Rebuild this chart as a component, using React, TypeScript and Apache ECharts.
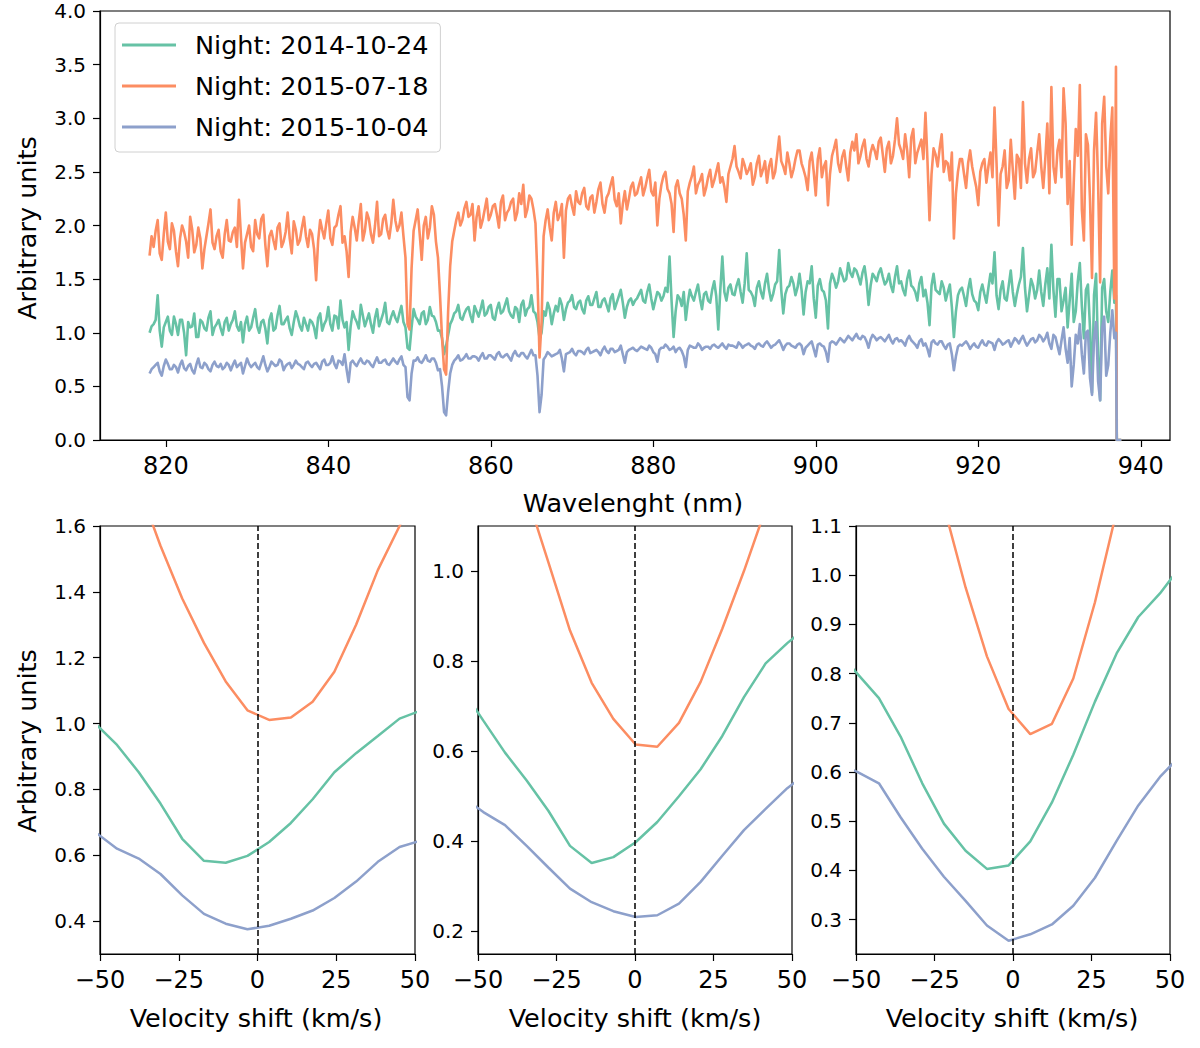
import React, { useEffect, useRef } from "react";
import * as echarts from "echarts";

const GREEN = "#66c2a5";
const ORANGE = "#fc8d62";
const BLUE = "#8da0cb";
const FONT = "DejaVu Sans";

const NIGHTS = ["Night: 2014-10-24", "Night: 2015-07-18", "Night: 2015-10-04"];

// ---- Top panel: spectra read every 0.5 nm (818.0 ... 936.5 nm) plus the samples in between (818.25 ... 936.25 nm) ----
const WL_START = 818;
const WL_STEP = 0.5;

const ORANGE_FLUX = [
  // 818.0 - 827.5
  1.72, 1.80, 2.05, 1.68, 2.12, 1.78, 1.95, 1.62, 2.00, 1.85, 2.08, 1.75, 1.98, 1.60, 1.90, 2.15, 1.78, 1.96, 1.70, 2.05,
  // 828.0 - 837.5
  1.85, 1.98, 2.24, 1.60, 1.92, 1.80, 2.05, 1.88, 2.10, 1.62, 1.95, 1.78, 2.02, 1.85, 2.12, 1.74, 1.96, 1.86, 2.08, 1.80,
  // 838.0 - 847.5
  1.92, 1.49, 2.05, 1.88, 2.14, 1.82, 2.00, 2.18, 1.90, 1.52, 2.08, 1.86, 2.20, 1.95, 2.06, 1.84, 2.22, 1.92, 2.10, 1.88,
  // 848.0 - 857.5
  2.24, 1.95, 2.12, 1.70, 1.03, 1.95, 2.15, 1.68, 2.08, 1.98, 2.10, 1.70, 0.95, 0.61, 1.62, 1.95, 2.12, 2.05, 2.22, 2.10,
  // 858.0 - 867.5
  1.86, 2.18, 2.05, 2.25, 2.10, 2.20, 1.98, 2.28, 2.12, 2.22, 2.05, 2.30, 2.38, 2.15, 2.25, 2.02, 0.77, 1.90, 2.15, 1.86,
  // 868.0 - 877.5
  2.22, 2.10, 1.70, 2.25, 2.18, 2.32, 2.20, 2.35, 2.15, 2.28, 2.22, 2.40, 2.12, 2.30, 2.45, 2.18, 2.02, 2.32, 2.25, 2.40,
  // 878.0 - 887.5
  2.30, 2.45, 2.35, 2.52, 2.28, 2.00, 2.38, 2.50, 2.30, 1.94, 2.42, 2.25, 1.86, 2.40, 2.55, 2.38, 2.48, 2.35, 2.52, 2.42,
  // 888.0 - 897.5
  2.58, 2.45, 2.22, 2.55, 2.74, 2.50, 2.62, 2.48, 2.58, 2.45, 2.65, 2.52, 2.40, 2.62, 2.50, 2.83, 2.55, 2.68, 2.45, 2.62,
  // 898.0 - 907.5
  2.70, 2.52, 2.33, 2.68, 2.28, 2.72, 2.55, 2.19, 2.65, 2.80, 2.50, 2.70, 2.42, 2.78, 2.85, 2.65, 2.80, 2.55, 2.75, 2.62,
  // 908.0 - 917.5
  2.82, 2.50, 2.78, 2.65, 3.00, 2.70, 2.85, 2.45, 2.90, 2.68, 2.80, 3.05, 2.05, 2.72, 2.55, 2.85, 2.60, 2.42, 1.88, 2.50,
  // 918.0 - 927.5
  2.62, 2.35, 2.70, 2.45, 2.19, 2.58, 2.40, 2.68, 3.10, 2.00, 2.55, 2.35, 2.80, 2.25, 2.62, 3.15, 2.40, 2.72, 2.50, 2.85,
  // 928.0 - 936.5
  2.35, 2.95, 3.29, 2.40, 2.80, 3.28, 2.20, 1.82, 2.90, 3.31, 1.86, 2.75, 1.51, 3.05, 1.47, 3.20, 2.30, 3.10,
];
const ORANGE_FLUX_MID = [
  // 818.25 - 827.75
  1.90, 1.95, 1.74, 1.92, 1.85, 2.02, 1.76, 1.88, 1.94, 1.70, 1.96, 1.82, 1.88, 1.78, 2.02, 1.84, 1.90, 1.76, 1.92, 1.86,
  // 828.25 - 837.75
  1.94, 1.80, 1.90, 1.84, 2.00, 1.76, 1.92, 2.06, 1.82, 1.90, 1.86, 1.98, 1.80, 1.94, 1.88, 2.04, 1.82, 1.98, 1.90, 1.96,
  // 838.25 - 847.75
  1.78, 1.86, 1.96, 2.02, 1.88, 1.98, 2.10, 1.84, 1.76, 1.94, 1.98, 2.04, 1.86, 2.12, 1.92, 2.00, 1.90, 2.06, 1.96, 2.02,
  // 848.25 - 857.75
  2.05, 2.00, 1.90, 1.08, 1.60, 2.05, 1.92, 2.00, 1.88, 2.18, 1.85, 1.35, 0.66, 1.20, 1.85, 2.05, 2.00, 2.16, 2.08, 2.20,
  // 858.25 - 867.75
  2.08, 1.98, 2.15, 2.05, 2.18, 2.10, 2.22, 2.05, 2.15, 2.25, 2.12, 2.20, 2.08, 2.28, 2.15, 1.50, 1.10, 2.05, 1.98, 2.12,
  // 868.25 - 877.75
  2.05, 2.20, 2.14, 2.28, 2.10, 2.22, 2.30, 2.18, 2.26, 2.12, 2.34, 2.20, 2.26, 2.38, 2.24, 2.30, 2.20, 2.15, 2.36, 2.28,
  // 878.25 - 887.75
  2.38, 2.28, 2.44, 2.32, 2.40, 2.25, 2.46, 2.34, 2.20, 2.36, 2.30, 2.10, 2.32, 2.46, 2.30, 2.42, 2.28, 2.45, 2.36, 2.50,
  // 888.25 - 897.75
  2.40, 2.36, 2.48, 2.62, 2.55, 2.44, 2.56, 2.52, 2.38, 2.58, 2.46, 2.60, 2.55, 2.44, 2.66, 2.60, 2.48, 2.58, 2.52, 2.70,
  // 898.25 - 907.75
  2.58, 2.45, 2.60, 2.50, 2.62, 2.45, 2.60, 2.48, 2.72, 2.58, 2.64, 2.55, 2.68, 2.70, 2.58, 2.74, 2.62, 2.68, 2.70, 2.78,
  // 908.25 - 917.75
  2.66, 2.72, 2.58, 2.80, 2.76, 2.62, 2.70, 2.82, 2.58, 2.74, 2.62, 2.60, 2.48, 2.66, 2.72, 2.50, 2.58, 2.68, 2.30, 2.62,
  // 918.25 - 927.75
  2.48, 2.58, 2.55, 2.36, 2.50, 2.62, 2.55, 2.45, 2.58, 2.48, 2.70, 2.42, 2.52, 2.66, 2.35, 2.58, 2.62, 2.45, 2.68, 2.55,
  // 928.25 - 936.25
  2.62, 2.30, 2.55, 2.70, 2.45, 2.95, 2.60, 2.40, 2.65, 2.15, 2.85, 2.25, 2.70, 2.40, 2.95, 2.55, 2.80,
];

const GREEN_FLUX = [
  // 818.0 - 827.5
  1.00, 1.08, 1.35, 0.87, 1.10, 1.02, 1.15, 0.98, 1.12, 0.79, 1.05, 1.18, 0.96, 1.10, 1.02, 1.20, 1.05, 1.12, 0.98, 1.14,
  // 828.0 - 837.5
  1.08, 1.20, 1.02, 0.91, 1.15, 1.05, 1.22, 1.00, 1.12, 0.90, 1.18, 1.04, 1.25, 1.08, 1.15, 0.98, 1.20, 1.06, 1.14, 1.02,
  // 838.0 - 847.5
  1.10, 0.95, 1.18, 1.08, 1.24, 1.02, 1.15, 1.30, 1.05, 0.84, 1.20, 1.10, 1.26, 1.06, 1.18, 1.00, 1.22, 1.12, 1.28, 1.08,
  // 848.0 - 857.5
  1.20, 1.10, 1.25, 1.05, 0.84, 1.22, 1.12, 1.18, 1.08, 1.24, 1.15, 1.02, 0.95, 0.88, 1.08, 1.18, 1.26, 1.12, 1.22, 1.16,
  // 858.0 - 867.5
  1.25, 1.15, 1.30, 1.18, 1.26, 1.12, 1.28, 1.20, 1.32, 1.16, 1.24, 1.10, 1.30, 1.22, 1.35, 1.18, 0.95, 1.20, 1.28, 1.08,
  // 868.0 - 877.5
  1.25, 1.32, 1.12, 1.28, 1.35, 1.22, 1.30, 1.18, 1.34, 1.26, 1.38, 1.24, 1.32, 1.20, 1.36, 1.28, 1.40, 1.14, 1.30, 1.26,
  // 878.0 - 887.5
  1.32, 1.40, 1.28, 1.45, 1.22, 1.38, 1.30, 1.42, 1.71, 0.96, 1.35, 1.25, 1.12, 1.40, 1.30, 1.45, 1.22, 1.38, 1.28, 1.48,
  // 888.0 - 897.5
  1.03, 1.71, 1.30, 1.45, 1.35, 1.50, 1.28, 1.74, 1.38, 1.25, 1.48, 1.32, 1.55, 1.30, 1.45, 1.77, 1.18, 1.42, 1.52, 1.35,
  // 898.0 - 907.5
  1.55, 1.17, 1.48, 1.62, 1.14, 1.50, 1.38, 1.04, 1.55, 1.42, 1.60, 1.48, 1.65, 1.52, 1.58, 1.45, 1.62, 1.26, 1.55, 1.48,
  // 908.0 - 917.5
  1.60, 1.45, 1.55, 1.38, 1.62, 1.48, 1.35, 1.58, 1.42, 1.30, 1.52, 1.40, 1.07, 1.55, 1.38, 1.48, 1.30, 1.45, 0.96, 1.35,
  // 918.0 - 927.5
  1.42, 1.25, 1.50, 1.30, 1.21, 1.45, 1.28, 1.55, 1.75, 1.22, 1.48, 1.30, 1.58, 1.25, 1.45, 1.79, 1.20, 1.50, 1.32, 1.58,
  // 928.0 - 936.5
  1.25, 1.60, 1.82, 1.15, 1.50, 1.30, 1.05, 1.55, 1.20, 1.65, 0.95, 1.45, 0.44, 1.55, 0.37, 1.50, 1.10, 1.58,
];
const GREEN_FLUX_MID = [
  // 818.25 - 827.75
  1.06, 1.12, 1.02, 1.05, 1.15, 0.98, 1.08, 1.12, 1.00, 1.10, 1.06, 0.96, 1.12, 1.04, 1.14, 0.98, 1.08, 1.04, 1.10, 1.02,
  // 828.25 - 837.75
  1.12, 1.06, 1.10, 1.08, 1.02, 1.14, 1.06, 1.10, 1.04, 1.12, 1.02, 1.16, 1.08, 1.12, 1.04, 1.10, 1.14, 1.02, 1.08, 1.12,
  // 838.25 - 847.75
  1.05, 1.14, 1.02, 1.12, 1.08, 1.16, 1.04, 1.12, 1.10, 1.06, 1.14, 1.04, 1.16, 1.12, 1.08, 1.14, 1.06, 1.18, 1.10, 1.15,
  // 848.25 - 857.75
  1.14, 1.18, 1.10, 0.86, 1.05, 1.15, 1.08, 1.20, 1.12, 1.16, 1.10, 1.02, 0.80, 0.98, 1.12, 1.20, 1.14, 1.18, 1.24, 1.10,
  // 858.25 - 867.75
  1.20, 1.22, 1.16, 1.24, 1.14, 1.22, 1.18, 1.26, 1.20, 1.14, 1.22, 1.26, 1.16, 1.24, 1.20, 1.10, 1.00, 1.16, 1.22, 1.18,
  // 868.25 - 877.75
  1.20, 1.26, 1.22, 1.30, 1.24, 1.28, 1.22, 1.30, 1.26, 1.32, 1.24, 1.30, 1.26, 1.32, 1.22, 1.34, 1.28, 1.24, 1.32, 1.30,
  // 878.25 - 887.75
  1.36, 1.30, 1.38, 1.32, 1.30, 1.36, 1.34, 1.38, 1.30, 1.20, 1.32, 1.38, 1.28, 1.34, 1.38, 1.32, 1.36, 1.30, 1.40, 1.34,
  // 888.25 - 897.75
  1.40, 1.38, 1.42, 1.36, 1.44, 1.38, 1.46, 1.40, 1.34, 1.42, 1.38, 1.46, 1.40, 1.36, 1.48, 1.40, 1.36, 1.44, 1.46, 1.42,
  // 898.25 - 907.75
  1.40, 1.38, 1.46, 1.32, 1.44, 1.40, 1.30, 1.46, 1.50, 1.48, 1.54, 1.50, 1.56, 1.60, 1.52, 1.56, 1.48, 1.44, 1.52, 1.56,
  // 908.25 - 917.75
  1.52, 1.48, 1.44, 1.52, 1.46, 1.40, 1.50, 1.44, 1.38, 1.46, 1.34, 1.28, 1.44, 1.40, 1.36, 1.42, 1.38, 1.24, 1.20, 1.40,
  // 918.25 - 927.75
  1.34, 1.40, 1.36, 1.28, 1.38, 1.36, 1.42, 1.46, 1.35, 1.40, 1.32, 1.44, 1.38, 1.36, 1.52, 1.42, 1.35, 1.44, 1.40, 1.38,
  // 928.25 - 936.25
  1.45, 1.32, 1.40, 1.50, 1.20, 1.42, 1.30, 1.10, 1.48, 1.25, 1.40, 1.05, 1.35, 0.80, 1.42, 1.20, 1.38,
];

const BLUE_FLUX = [
  // 818.0 - 827.5
  0.62, 0.68, 0.72, 0.60, 0.75, 0.66, 0.70, 0.63, 0.74, 0.65, 0.71, 0.62, 0.76, 0.67, 0.70, 0.64, 0.73, 0.68, 0.66, 0.72,
  // 828.0 - 837.5
  0.65, 0.74, 0.70, 0.62, 0.76, 0.68, 0.72, 0.66, 0.78, 0.64, 0.73, 0.69, 0.75, 0.65, 0.71, 0.67, 0.74, 0.70, 0.66, 0.73,
  // 838.0 - 847.5
  0.68, 0.72, 0.66, 0.75, 0.70, 0.78, 0.67, 0.73, 0.80, 0.54, 0.74, 0.69, 0.76, 0.71, 0.73, 0.68, 0.77, 0.72, 0.75, 0.70,
  // 848.0 - 857.5
  0.76, 0.71, 0.78, 0.68, 0.37, 0.74, 0.77, 0.72, 0.79, 0.73, 0.76, 0.65, 0.50, 0.23, 0.62, 0.74, 0.79, 0.75, 0.80, 0.76,
  // 858.0 - 867.5
  0.78, 0.74, 0.81, 0.76, 0.79, 0.75, 0.82, 0.77, 0.80, 0.74, 0.83, 0.78, 0.81, 0.76, 0.84, 0.79, 0.26, 0.75, 0.82, 0.78,
  // 868.0 - 877.5
  0.80, 0.84, 0.64, 0.81, 0.85, 0.79, 0.83, 0.80, 0.86, 0.82, 0.84, 0.79, 0.87, 0.81, 0.85, 0.83, 0.88, 0.72, 0.84, 0.86,
  // 878.0 - 887.5
  0.83, 0.87, 0.85, 0.88, 0.82, 0.73, 0.86, 0.89, 0.84, 0.87, 0.85, 0.83, 0.68, 0.88, 0.86, 0.90, 0.84, 0.87, 0.85, 0.89,
  // 888.0 - 897.5
  0.86, 0.90, 0.85, 0.88, 0.87, 0.91, 0.86, 0.89, 0.88, 0.85, 0.90, 0.87, 0.92, 0.86, 0.89, 0.93, 0.84, 0.90, 0.88, 0.86,
  // 898.0 - 907.5
  0.90, 0.80, 0.88, 0.92, 0.78, 0.90, 0.87, 0.73, 0.92, 0.89, 0.95, 0.91, 0.97, 0.93, 0.99, 0.94, 0.96, 0.86, 0.98, 0.93,
  // 908.0 - 917.5
  0.96, 0.92, 0.98, 0.90, 0.95, 0.93, 0.88, 0.97, 0.91, 0.86, 0.94, 0.90, 0.78, 0.93, 0.89, 0.92, 0.85, 0.90, 0.65, 0.87,
  // 918.0 - 927.5
  0.88, 0.92, 0.85, 0.90, 0.86, 0.93, 0.88, 0.91, 0.84, 0.94, 0.89, 0.92, 0.87, 0.95, 0.90, 0.97, 0.88, 0.94, 0.91, 0.98,
  // 928.0 - 936.5
  0.92, 1.00, 0.85, 0.96, 0.80, 1.05, 0.72, 0.50, 0.98, 1.08, 0.62, 1.02, 0.42, 1.10, 0.37, 1.15, 0.70, 1.21,
];
const BLUE_FLUX_MID = [
  // 818.25 - 827.75
  0.66, 0.70, 0.64, 0.69, 0.71, 0.66, 0.68, 0.70, 0.67, 0.69, 0.65, 0.70, 0.68, 0.72, 0.66, 0.70, 0.69, 0.71, 0.68, 0.70,
  // 828.25 - 837.75
  0.70, 0.68, 0.72, 0.69, 0.71, 0.70, 0.68, 0.72, 0.70, 0.68, 0.71, 0.70, 0.73, 0.69, 0.72, 0.70, 0.71, 0.68, 0.72, 0.70,
  // 838.25 - 847.75
  0.71, 0.69, 0.73, 0.70, 0.72, 0.71, 0.74, 0.70, 0.66, 0.72, 0.71, 0.73, 0.72, 0.74, 0.70, 0.73, 0.72, 0.74, 0.71, 0.73,
  // 848.25 - 857.75
  0.73, 0.75, 0.70, 0.40, 0.62, 0.74, 0.73, 0.75, 0.74, 0.76, 0.72, 0.66, 0.26, 0.45, 0.70, 0.76, 0.74, 0.77, 0.76, 0.78,
  // 858.25 - 867.75
  0.77, 0.78, 0.76, 0.79, 0.77, 0.80, 0.78, 0.79, 0.77, 0.80, 0.79, 0.81, 0.78, 0.80, 0.79, 0.60, 0.42, 0.78, 0.80, 0.79,
  // 868.25 - 877.75
  0.81, 0.76, 0.80, 0.82, 0.81, 0.83, 0.82, 0.84, 0.81, 0.83, 0.82, 0.84, 0.83, 0.85, 0.82, 0.84, 0.80, 0.82, 0.85, 0.84,
  // 878.25 - 887.75
  0.85, 0.86, 0.84, 0.86, 0.80, 0.84, 0.86, 0.87, 0.85, 0.82, 0.86, 0.78, 0.84, 0.87, 0.86, 0.88, 0.86, 0.87, 0.88, 0.87,
  // 888.25 - 897.75
  0.88, 0.87, 0.89, 0.88, 0.86, 0.89, 0.88, 0.90, 0.87, 0.89, 0.88, 0.90, 0.89, 0.88, 0.91, 0.89, 0.88, 0.90, 0.87, 0.89,
  // 898.25 - 907.75
  0.88, 0.86, 0.90, 0.85, 0.89, 0.88, 0.82, 0.90, 0.91, 0.92, 0.93, 0.94, 0.95, 0.96, 0.95, 0.97, 0.92, 0.94, 0.96, 0.95,
  // 908.25 - 917.75
  0.94, 0.95, 0.93, 0.94, 0.92, 0.91, 0.94, 0.93, 0.89, 0.92, 0.88, 0.85, 0.91, 0.90, 0.92, 0.88, 0.89, 0.80, 0.78, 0.89,
  // 918.25 - 927.75
  0.90, 0.89, 0.88, 0.87, 0.90, 0.89, 0.92, 0.90, 0.91, 0.92, 0.90, 0.93, 0.91, 0.93, 0.94, 0.92, 0.91, 0.95, 0.93, 0.96,
  // 928.25 - 936.25
  0.95, 0.90, 0.98, 0.88, 0.93, 0.85, 0.95, 0.70, 0.90, 0.80, 1.00, 0.58, 0.95, 0.55, 1.05, 0.60, 1.00,
];

// red end of the detector: last samples and the cut to zero
const TAIL_WL = [936.75, 936.95, 937.05, 937.6];
const ORANGE_TAIL = [1.32, 3.48, 0.0, 0.0];
const GREEN_TAIL = [1.28, 1.35, 0.0, 0.0];
const BLUE_TAIL = [0.95, 1.0, 0.0, 0.0];

const WL_TICKS = [820, 840, 860, 880, 900, 920, 940];

// ---- Bottom panels: line profiles vs velocity shift ----
const VEL_1 = [-51.5, -44.6, -37.7, -30.8, -23.9, -17.0, -10.1, -3.2, 3.7, 10.6, 17.5, 24.4, 31.3, 38.2, 45.1, 52.0];
const P1_GREEN = [1.0, 0.935, 0.852, 0.757, 0.65, 0.583, 0.577, 0.598, 0.64, 0.698, 0.77, 0.852, 0.91, 0.962, 1.015, 1.04];
const P1_ORANGE = [2.0, 1.87, 1.72, 1.54, 1.38, 1.245, 1.128, 1.04, 1.011, 1.018, 1.066, 1.157, 1.3, 1.466, 1.6, 1.74];
const P1_BLUE = [0.67, 0.62, 0.59, 0.543, 0.478, 0.422, 0.392, 0.375, 0.386, 0.407, 0.432, 0.47, 0.52, 0.58, 0.625, 0.645];
const P1_YTICKS = [0.4, 0.6, 0.8, 1.0, 1.2, 1.4, 1.6];

const VEL_2 = [-55.2, -48.3, -41.4, -34.5, -27.6, -20.7, -13.8, -6.9, 0.2, 7.1, 14.0, 20.9, 27.8, 34.7, 41.6, 48.5, 55.4];
const P2_GREEN = [0.74, 0.668, 0.597, 0.535, 0.468, 0.39, 0.352, 0.365, 0.398, 0.443, 0.5, 0.56, 0.634, 0.72, 0.795, 0.84, 0.88];
const P2_ORANGE = [1.7, 1.55, 1.38, 1.17, 1.02, 0.868, 0.752, 0.672, 0.615, 0.61, 0.663, 0.754, 0.872, 1.0, 1.138, 1.27, 1.4];
const P2_BLUE = [0.5, 0.465, 0.436, 0.39, 0.342, 0.295, 0.265, 0.245, 0.232, 0.236, 0.262, 0.31, 0.368, 0.425, 0.472, 0.518, 0.555];
const P2_YTICKS = [0.2, 0.4, 0.6, 0.8, 1.0];

const VEL_3 = [-56.5, -49.6, -42.7, -35.8, -28.9, -22.0, -15.1, -8.3, -1.4, 5.5, 12.4, 19.2, 26.1, 33.0, 39.9, 46.8, 53.6];
const P3_GREEN = [0.85, 0.8, 0.75, 0.672, 0.577, 0.495, 0.44, 0.403, 0.41, 0.459, 0.538, 0.635, 0.743, 0.841, 0.915, 0.963, 1.02];
const P3_ORANGE = [2.1, 1.85, 1.62, 1.42, 1.28, 1.14, 0.975, 0.835, 0.728, 0.677, 0.698, 0.79, 0.945, 1.13, 1.32, 1.5, 1.68];
const P3_BLUE = [0.62, 0.6, 0.577, 0.508, 0.444, 0.387, 0.338, 0.288, 0.257, 0.27, 0.29, 0.328, 0.385, 0.46, 0.532, 0.59, 0.635];
const P3_YTICKS = [0.3, 0.4, 0.5, 0.6, 0.7, 0.8, 0.9, 1.0, 1.1];

const PANELS = [
  { vel: VEL_1, green: P1_GREEN, orange: P1_ORANGE, blue: P1_BLUE, ticks: P1_YTICKS, ymin: 0.3, ymax: 1.6, left: 100, width: 315 },
  { vel: VEL_2, green: P2_GREEN, orange: P2_ORANGE, blue: P2_BLUE, ticks: P2_YTICKS, ymin: 0.15, ymax: 1.1, left: 478, width: 314 },
  { vel: VEL_3, green: P3_GREEN, orange: P3_ORANGE, blue: P3_BLUE, ticks: P3_YTICKS, ymin: 0.23, ymax: 1.1, left: 856, width: 314 },
];

const spectrum = (flux: number[], mid: number[], tail: number[]) => {
  const pts: number[][] = [];
  flux.forEach((v, i) => {
    pts.push([WL_START + i * WL_STEP, v]);
    if (i < mid.length) pts.push([WL_START + i * WL_STEP + WL_STEP / 2, mid[i]]);
  });
  TAIL_WL.forEach((w, i) => pts.push([w, tail[i]]));
  return pts;
};

const pairs = (xs: number[], ys: number[]) => xs.map((x, i) => [x, ys[i]]);

const fmtMinus = (v: number) => (v < 0 ? "\u2212" + Math.abs(v) : String(v));

export default function App() {
  const ref = useRef<HTMLDivElement>(null);

  useEffect(() => {
    if (!ref.current) return;
    const chart = echarts.init(ref.current, null, { renderer: "svg" });

    const axisCommon = {
      axisLine: { show: true, onZero: false, lineStyle: { color: "#000", width: 1.2 } },
      axisTick: { show: true, length: 7, lineStyle: { color: "#000", width: 1.2 } },
      splitLine: { show: false },
    };

    const grids: any[] = [
      { left: 100, top: 11, width: 1070, height: 429, show: true, borderColor: "#000", borderWidth: 1.2, backgroundColor: "transparent" },
    ];
    const xAxes: any[] = [
      {
        ...axisCommon,
        gridIndex: 0,
        type: "value",
        min: 811.9,
        max: 943.6,
        axisTick: { ...axisCommon.axisTick, customValues: WL_TICKS },
        axisLabel: { customValues: WL_TICKS, fontSize: 24, color: "#000", fontFamily: FONT, margin: 14 },
      },
    ];
    const yAxes: any[] = [
      {
        ...axisCommon,
        gridIndex: 0,
        type: "value",
        min: 0,
        max: 4,
        interval: 0.5,
        axisLabel: { fontSize: 20, color: "#000", fontFamily: FONT, margin: 14, formatter: (v: number) => v.toFixed(1) },
      },
    ];

    const series: any[] = [
      { name: NIGHTS[0], data: spectrum(GREEN_FLUX, GREEN_FLUX_MID, GREEN_TAIL), color: GREEN },
      { name: NIGHTS[1], data: spectrum(ORANGE_FLUX, ORANGE_FLUX_MID, ORANGE_TAIL), color: ORANGE },
      { name: NIGHTS[2], data: spectrum(BLUE_FLUX, BLUE_FLUX_MID, BLUE_TAIL), color: BLUE },
    ].map((s) => ({
      type: "line",
      name: s.name,
      xAxisIndex: 0,
      yAxisIndex: 0,
      data: s.data,
      showSymbol: false,
      symbol: "none",
      color: s.color,
      itemStyle: { color: s.color },
      lineStyle: { color: s.color, width: 2.6, join: "round" },
    }));

    PANELS.forEach((p, k) => {
      const gi = k + 1;
      grids.push({ left: p.left, top: 526, width: p.width, height: 428, show: true, borderColor: "#000", borderWidth: 1.2, backgroundColor: "transparent" });
      xAxes.push({
        ...axisCommon,
        gridIndex: gi,
        type: "value",
        min: -50,
        max: 50,
        interval: 25,
        axisLabel: { fontSize: 24, color: "#000", fontFamily: FONT, margin: 14, formatter: fmtMinus },
      });
      yAxes.push({
        ...axisCommon,
        gridIndex: gi,
        type: "value",
        min: p.ymin,
        max: p.ymax,
        axisTick: { ...axisCommon.axisTick, customValues: p.ticks },
        axisLabel: { customValues: p.ticks, fontSize: 20, color: "#000", fontFamily: FONT, margin: 14, formatter: (v: number) => v.toFixed(1) },
      });
      const lines = [
        { name: NIGHTS[0], ys: p.green, color: GREEN },
        { name: NIGHTS[1], ys: p.orange, color: ORANGE },
        { name: NIGHTS[2], ys: p.blue, color: BLUE },
      ];
      lines.forEach((l, j) => {
        const s: any = {
          type: "line",
          name: l.name,
          xAxisIndex: gi,
          yAxisIndex: gi,
          data: pairs(p.vel, l.ys),
          showSymbol: false,
          symbol: "none",
          clip: true,
          color: l.color,
          itemStyle: { color: l.color },
          lineStyle: { color: l.color, width: 2.5 },
        };
        if (j === 2) {
          s.markLine = {
            silent: true,
            symbol: "none",
            label: { show: false },
            lineStyle: { color: "#000", type: [6, 3], width: 1.5 },
            data: [{ xAxis: 0 }],
          };
        }
        series.push(s);
      });
    });

    const titleText = (text: string, x: number, y: number, rotation = 0) => ({
      type: "text",
      x,
      y,
      rotation,
      style: { text, fontSize: 25.5, fontFamily: FONT, fill: "#000", align: "center", verticalAlign: "middle" },
    });

    chart.setOption({
      animation: false,
      backgroundColor: "#fff",
      textStyle: { fontFamily: FONT },
      grid: grids,
      xAxis: xAxes,
      yAxis: yAxes,
      legend: {
        data: NIGHTS,
        orient: "vertical",
        left: 115,
        top: 23,
        icon: "rect",
        itemWidth: 54,
        itemHeight: 3,
        itemGap: 15,
        padding: [9, 12, 12, 7],
        backgroundColor: "rgba(255,255,255,0.8)",
        borderColor: "#d0d0d0",
        borderWidth: 1,
        borderRadius: 4,
        selectedMode: false,
        textStyle: { fontSize: 25.5, color: "#000", fontFamily: FONT, padding: [0, 0, 0, 14] },
      },
      graphic: [
        titleText("Arbitrary units", 27, 228, Math.PI / 2),
        titleText("Arbitrary units", 27, 741, Math.PI / 2),
        titleText("Wavelenght (nm)", 633, 503),
        titleText("Velocity shift (km/s)", 256, 1018),
        titleText("Velocity shift (km/s)", 635, 1018),
        titleText("Velocity shift (km/s)", 1012, 1018),
      ],
      series,
    });

    return () => chart.dispose();
  }, []);

  return <div ref={ref} style={{ position: "absolute", left: 0, top: 0, width: 1200, height: 1048 }} />;
}
